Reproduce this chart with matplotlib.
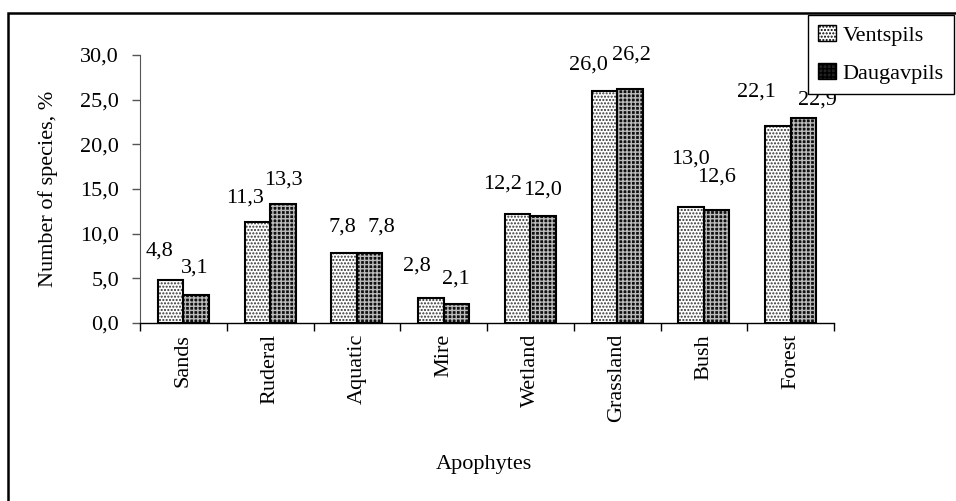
import matplotlib.pyplot as plt
import matplotlib.patches as mpatches
import numpy as np

plt.rcParams['font.family'] = ['Liberation Serif', 'DejaVu Serif']
plt.rcParams['hatch.linewidth'] = 1.0

categories = ['Sands', 'Ruderal', 'Aquatic', 'Mire', 'Wetland', 'Grassland', 'Bush', 'Forest']
ventspils = [4.8, 11.3, 7.8, 2.8, 12.2, 26.0, 13.0, 22.1]
daugavpils = [3.1, 13.3, 7.8, 2.1, 12.0, 26.2, 12.6, 22.9]
yticks = [0, 5, 10, 15, 20, 25, 30]

# hand-placed label offsets (pixels from bar top centre)
v_off = [(-11, 29), (-12, 24), (-2, 26), (-14, 32), (-15, 30), (-16, 26), (-1, 48), (-21, 34)]
d_off = [(-1, 27), (1, 24), (12, 26), (-1, 25), (-1, 26), (2, 34), (0, 33), (14, 18)]

fs = 16
fig = plt.figure(figsize=(9.56, 5.01), dpi=100)
W, H = 956, 501
ax = fig.add_axes([140 / W, 1 - 323 / H, 694 / W, 268 / H])

x = np.arange(len(categories)) + 0.5
w = 0.295

# light dotted bars
ax.bar(x - w / 2, ventspils, w, color='white', hatch='.....', edgecolor='#333333', linewidth=0, zorder=2)
ax.bar(x - w / 2, ventspils, w, fill=False, edgecolor='black', linewidth=1.5, zorder=3)
# dark bars with light dots
ax.bar(x + w / 2, daugavpils, w, color='#111111', hatch='++++', edgecolor='#bbbbbb', linewidth=0, zorder=2)
ax.bar(x + w / 2, daugavpils, w, fill=False, edgecolor='black', linewidth=1.5, zorder=3)

for i in range(len(categories)):
    ax.annotate(f'{ventspils[i]:.1f}'.replace('.', ','), (x[i] - w / 2, ventspils[i]),
                xytext=v_off[i], textcoords='offset pixels', ha='center', va='center', fontsize=fs)
    ax.annotate(f'{daugavpils[i]:.1f}'.replace('.', ','), (x[i] + w / 2, daugavpils[i]),
                xytext=d_off[i], textcoords='offset pixels', ha='center', va='center', fontsize=fs)

ax.set_xlim(0, len(categories))
ax.set_ylim(0, 30)
ax.set_yticks(yticks)
ax.set_yticklabels([f'{t:.1f}'.replace('.', ',') for t in yticks], fontsize=fs)
ax.set_xticks(np.arange(len(categories) + 1))
ax.set_xticklabels([])
ax.set_xticks(x, minor=True)
ax.set_xticklabels(categories, minor=True, rotation=90, fontsize=fs)
ax.tick_params(axis='x', which='minor', length=0, pad=8)
ax.tick_params(axis='x', which='major', length=6, direction='out', width=1)
ax.tick_params(axis='y', length=6, direction='out', width=1, color='#555555', pad=9)

ax.spines['top'].set_visible(False)
ax.spines['right'].set_visible(False)
ax.spines['left'].set_color('#555555')
ax.spines['bottom'].set_linewidth(1)

ax.set_ylabel('Number of species, %', fontsize=fs)
ax.yaxis.set_label_coords(-0.118, 0.5)
fig.text(484 / W, 1 - 465 / H, 'Apophytes', ha='center', va='center', fontsize=fs)

# outer chart frame (cut at right / bottom)
frame = mpatches.Rectangle((8 / W, -0.2), 1.2, 1.2 - 13 / H, transform=fig.transFigure,
                           fill=False, edgecolor='black', linewidth=1.8)
fig.add_artist(frame)

handles = [mpatches.Patch(facecolor='white', hatch='.....', edgecolor='black', label='Ventspils'),
           mpatches.Patch(facecolor='#222222', hatch='++++', edgecolor='black', label='Daugavpils')]
leg = fig.legend(handles=handles, loc='upper left', bbox_to_anchor=(808 / W, 1 - 15 / H),
                 fontsize=fs, frameon=True, fancybox=False, handlelength=0.8, handleheight=0.7,
                 handletextpad=0.3, borderpad=0.45, labelspacing=0.8, borderaxespad=0)
leg.get_frame().set_edgecolor('black')
leg.get_frame().set_linewidth(1)
leg.get_frame().set_alpha(1)

fig.savefig('out.png', dpi=100)
